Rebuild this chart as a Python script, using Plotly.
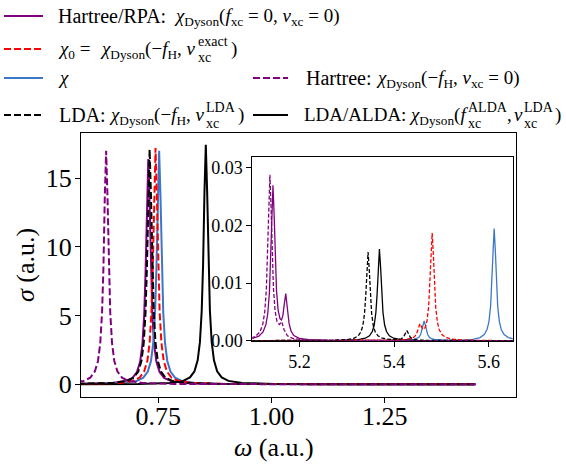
import plotly.graph_objects as go

# ---------------- main panel data (omega / sigma, a.u.) ----------------
rpa_x = [0.55, 0.578, 0.648, 0.678, 0.693, 0.703, 0.710, 0.715, 0.719, 0.722, 0.725, 0.728, 0.731,
         0.734, 0.737, 0.741, 0.746, 0.753, 0.763, 0.778, 0.808, 0.878, 1.0, 1.2, 1.45]
rpa_y = [0.019, 0.026, 0.092, 0.233, 0.467, 0.894, 1.64, 2.89, 5.05, 8.2, 13.1, 16.4, 13.1,
         8.2, 5.05, 2.89, 1.64, 0.894, 0.467, 0.233, 0.092, 0.026, 0.008, 0.003, 0.001]

chi0_x = [0.55, 0.594, 0.664, 0.694, 0.709, 0.719, 0.726, 0.731, 0.735, 0.738, 0.741, 0.744, 0.747,
          0.750, 0.753, 0.757, 0.762, 0.769, 0.779, 0.794, 0.824, 0.894, 1.0, 1.2, 1.45]
chi0_y = [0.016, 0.028, 0.096, 0.244, 0.49, 0.94, 1.72, 3.03, 5.30, 8.6, 13.76, 17.2, 13.76,
          8.6, 5.30, 3.03, 1.72, 0.94, 0.49, 0.244, 0.096, 0.028, 0.01, 0.003, 0.001]

chi_x = [0.55, 0.602, 0.672, 0.702, 0.717, 0.727, 0.734, 0.739, 0.743, 0.746, 0.749, 0.752, 0.755,
         0.758, 0.761, 0.765, 0.770, 0.777, 0.787, 0.802, 0.832, 0.902, 1.0, 1.2, 1.45]
chi_y = [0.015, 0.027, 0.095, 0.24, 0.48, 0.93, 1.7, 2.99, 5.24, 8.5, 13.6, 17.0, 13.6,
         8.5, 5.24, 2.99, 1.7, 0.93, 0.48, 0.24, 0.095, 0.027, 0.01, 0.003, 0.001]

hartree_x = [0.55, 0.585, 0.600, 0.610, 0.617, 0.622, 0.626, 0.629, 0.632, 0.635, 0.638, 0.641,
             0.644, 0.648, 0.653, 0.660, 0.670, 0.685, 0.715, 0.785, 0.9, 1.1, 1.45]
hartree_y = [0.084, 0.24, 0.48, 0.93, 1.7, 2.99, 5.24, 8.5, 13.6, 17.0, 13.6, 8.5,
             5.24, 2.99, 1.7, 0.93, 0.48, 0.24, 0.095, 0.027, 0.009, 0.003, 0.001]

lda_x = [0.55, 0.581, 0.651, 0.681, 0.696, 0.706, 0.713, 0.718, 0.722, 0.725, 0.728, 0.731, 0.734,
         0.737, 0.740, 0.744, 0.749, 0.756, 0.766, 0.781, 0.811, 0.881, 1.0, 1.2, 1.45]
lda_y = [0.019, 0.027, 0.096, 0.243, 0.49, 0.93, 1.71, 3.01, 5.27, 8.55, 13.68, 17.1, 13.68,
         8.55, 5.27, 3.01, 1.71, 0.93, 0.49, 0.243, 0.096, 0.027, 0.009, 0.003, 0.001]

alda_x = [0.55, 0.705, 0.775, 0.805, 0.820, 0.830, 0.837, 0.842, 0.846, 0.849, 0.852, 0.855,
          0.858, 0.861, 0.864, 0.868, 0.873, 0.880, 0.890, 0.905, 0.935, 1.005, 1.2, 1.45]
alda_y = [0.007, 0.028, 0.098, 0.248, 0.50, 0.95, 1.75, 3.07, 5.37, 8.73, 13.96, 17.45,
          13.96, 8.73, 5.37, 3.07, 1.75, 0.95, 0.50, 0.248, 0.098, 0.028, 0.005, 0.002]

# ---------------- inset data ----------------
in_rpa_x = [5.06, 5.10, 5.114, 5.123, 5.129, 5.133, 5.1365, 5.139, 5.1415, 5.144, 5.1465, 5.149,
            5.1515, 5.155, 5.159, 5.162, 5.165, 5.1675, 5.171, 5.1745, 5.178, 5.182, 5.188, 5.20,
            5.22, 5.26, 5.36, 5.46, 5.56, 5.70]
in_rpa_y = [0.00011, 0.00038, 0.00078, 0.00152, 0.00279, 0.00472, 0.0084, 0.0136, 0.0217, 0.0270,
            0.0217, 0.0138, 0.0087, 0.0052, 0.0038, 0.0036, 0.0044, 0.0061, 0.0082, 0.0056,
            0.0030, 0.0017, 0.0009, 0.00042, 0.0002, 0.00007, 0.00002, 0.00001, 0.00001, 0.0]

in_hartree_x = [5.06, 5.10, 5.1075, 5.1165, 5.1225, 5.1265, 5.13, 5.1325, 5.135, 5.1375, 5.14,
                5.1425, 5.145, 5.1485, 5.1525, 5.1575, 5.1625, 5.1675, 5.1745, 5.1855, 5.21,
                5.26, 5.36, 5.46, 5.56, 5.70]
in_hartree_y = [0.00012, 0.00052, 0.00078, 0.00154, 0.00288, 0.00492, 0.00887, 0.0144, 0.02304,
                0.0288, 0.02304, 0.0144, 0.00904, 0.00517, 0.00332, 0.0028, 0.0033, 0.0019,
                0.00085, 0.0004, 0.00014, 0.00005, 0.00001, 0.0, 0.0, 0.0]

in_lda_x = [5.06, 5.21, 5.27, 5.30, 5.315, 5.324, 5.33, 5.334, 5.3375, 5.34, 5.3425, 5.345, 5.3475,
            5.35, 5.3525, 5.356, 5.36, 5.366, 5.375, 5.39, 5.405, 5.415, 5.42, 5.424, 5.427,
            5.43, 5.434, 5.439, 5.45, 5.48, 5.56, 5.70]
in_lda_y = [0.0, 0.00002, 0.00007, 0.00019, 0.00042, 0.00083, 0.00154, 0.00263, 0.00474, 0.0077,
            0.01232, 0.0154, 0.01232, 0.0077, 0.00474, 0.00263, 0.00154, 0.00084, 0.00043,
            0.00022, 0.00017, 0.00033, 0.00064, 0.00131, 0.00176, 0.0013, 0.00062, 0.0003,
            0.00011, 0.00004, 0.00001, 0.0]

in_alda_x = [5.06, 5.21, 5.29, 5.324, 5.339, 5.348, 5.354, 5.358, 5.3615, 5.364, 5.3665, 5.369,
             5.3715, 5.374, 5.3765, 5.38, 5.384, 5.39, 5.399, 5.414, 5.449, 5.53, 5.70]
in_alda_y = [0.0, 0.000016, 0.000064, 0.00019, 0.00043, 0.00085, 0.00159, 0.00272, 0.0049,
             0.00795, 0.01272, 0.0159, 0.01272, 0.00795, 0.0049, 0.00272, 0.00159, 0.00085,
             0.00043, 0.00019, 0.000064, 0.000016, 0.0]

in_chi0_x = [5.06, 5.3095, 5.3795, 5.4095, 5.4245, 5.4335, 5.4395, 5.4435, 5.447, 5.4505, 5.4545,
             5.4585, 5.4615, 5.4655, 5.4695, 5.473, 5.4755, 5.478, 5.4805, 5.483, 5.4855, 5.488,
             5.4915, 5.4955, 5.5015, 5.5105, 5.5255, 5.5505, 5.6095, 5.70]
in_chi0_y = [0.0, 0.00002, 0.00006, 0.00012, 0.00021, 0.00033, 0.0005, 0.00072, 0.00112, 0.0019,
             0.00296, 0.00231, 0.00198, 0.00225, 0.00341, 0.00589, 0.00942, 0.01498, 0.01869,
             0.01496, 0.00937, 0.00579, 0.00323, 0.0019, 0.00103, 0.00052, 0.00024, 0.0001,
             0.00003, 0.00001]

in_chi_x = [5.06, 5.3595, 5.4095, 5.4335, 5.4425, 5.4485, 5.4525, 5.456, 5.4585, 5.461, 5.4635,
            5.466, 5.4685, 5.471, 5.4745, 5.4785, 5.4845, 5.4935, 5.5095, 5.5395, 5.5665, 5.5815,
            5.5905, 5.5965, 5.6005, 5.604, 5.6065, 5.609, 5.6115, 5.614, 5.6165, 5.619, 5.6225,
            5.6265, 5.6325, 5.6415, 5.6565, 5.6815, 5.71]
in_chi_y = [0.0, 0.00002, 0.00004, 0.00011, 0.0002, 0.00036, 0.0006, 0.00107, 0.00172, 0.00274,
            0.00342, 0.00274, 0.00172, 0.00107, 0.0006, 0.00036, 0.00021, 0.00013, 0.00009,
            0.00011, 0.00024, 0.00053, 0.00105, 0.00195, 0.00333, 0.00601, 0.00975, 0.0156,
            0.0195, 0.0156, 0.00975, 0.00601, 0.00333, 0.00195, 0.00105, 0.00053, 0.00024,
            0.0001, 0.00005]

main_xticks = [0.75, 1.0, 1.25]
main_xticklabels = ["0.75", "1.00", "1.25"]
main_yticks = [0, 5, 10, 15]
inset_xticks = [5.2, 5.4, 5.6]
inset_yticks = [0.0, 0.01, 0.02, 0.03]
inset_yticklabels = ["0.00", "0.01", "0.02", "0.03"]

# ---------------- styling ----------------
PURPLE = "#800080"
RED = "#ff0000"
BLUE = "#3c78c8"
BLACK = "#000000"
FONT = "Liberation Serif"
DASH = "7px,3px"
DASH_IN = "4px,2px"

W, H = 566, 464
L, R, T, B = 81, 516, 133, 397


def fx(p):
    return (p - L) / (R - L)


def fy(p):
    return (B - p) / (B - T)


fig = go.Figure()

main_series = [
    (rpa_x, rpa_y, PURPLE, "solid"),
    (chi_x, chi_y, BLUE, "solid"),
    (alda_x, alda_y, BLACK, "solid"),
    (chi0_x, chi0_y, RED, DASH),
    (lda_x, lda_y, BLACK, DASH),
    (hartree_x, hartree_y, PURPLE, DASH),
]
for xs, ys, c, d in main_series:
    fig.add_trace(go.Scatter(x=xs, y=ys, mode="lines", line=dict(color=c, width=2, dash=d),
                             showlegend=False, xaxis="x", yaxis="y", hoverinfo="skip"))

inset_series = [
    (in_rpa_x, in_rpa_y, PURPLE, "solid"),
    (in_chi_x, in_chi_y, BLUE, "solid"),
    (in_alda_x, in_alda_y, BLACK, "solid"),
    (in_chi0_x, in_chi0_y, RED, DASH_IN),
    (in_lda_x, in_lda_y, BLACK, DASH_IN),
    (in_hartree_x, in_hartree_y, PURPLE, DASH_IN),
]
for xs, ys, c, d in inset_series:
    fig.add_trace(go.Scatter(x=xs, y=ys, mode="lines", line=dict(color=c, width=1.3, dash=d),
                             showlegend=False, xaxis="x2", yaxis="y2", hoverinfo="skip"))

axis_common = dict(showline=True, linecolor="black", linewidth=1, mirror=True, ticks="outside",
                   ticklen=5, tickwidth=1, tickcolor="black", showgrid=False, zeroline=False)

fig.update_layout(
    width=W, height=H,
    margin=dict(l=L, r=W - R, t=T, b=H - B, pad=0),
    paper_bgcolor="white", plot_bgcolor="white",
    showlegend=False,
    xaxis=dict(domain=[0, 1], range=[0.5795, 1.5397], tickvals=main_xticks, ticktext=main_xticklabels,
               tickfont=dict(family=FONT, size=26, color="black"), ticklabelstandoff=-9,
               anchor="y", **axis_common),
    yaxis=dict(domain=[0, 1], range=[-0.925, 18.30], tickvals=main_yticks,
               tickfont=dict(family=FONT, size=26, color="black"), ticklabelstandoff=-2,
               anchor="x", **axis_common),
    xaxis2=dict(domain=[fx(252.3), fx(512.7)], range=[5.1003, 5.6507], tickvals=inset_xticks,
                tickfont=dict(family=FONT, size=18, color="black"), anchor="y2", **axis_common),
    yaxis2=dict(domain=[fy(340.7), fy(157.3)], range=[0, 0.03185], tickvals=inset_yticks,
                ticktext=inset_yticklabels,
                tickfont=dict(family=FONT, size=18, color="black"), anchor="x2", **axis_common),
)

# ---------------- axis titles ----------------
fig.add_annotation(x=fx(274), y=fy(447), xref="paper", yref="paper", showarrow=False,
                   text="<i>ω</i> (a.u.)", font=dict(family=FONT, size=26, color="black"),
                   xanchor="center", yanchor="middle")
fig.add_annotation(x=fx(25), y=fy(265), xref="paper", yref="paper", showarrow=False,
                   text="<i>σ</i> (a.u.)", textangle=-90, font=dict(family=FONT, size=26, color="black"),
                   xanchor="center", yanchor="middle")

# ---------------- legend (hand-placed, two columns) ----------------
Y1, Y2, Y3, Y4 = 16, 49, 78, 115
legend_lines = [
    (4, 43, Y1, PURPLE, "solid"),
    (4, 43, Y2, RED, DASH),
    (4, 43, Y3, BLUE, "solid"),
    (253, 288, Y3, PURPLE, DASH),
    (4, 43, Y4, BLACK, DASH),
    (253, 288, Y4, BLACK, "solid"),
]
for x0, x1, yy, c, d in legend_lines:
    fig.add_shape(type="line", xref="paper", yref="paper", x0=fx(x0), x1=fx(x1), y0=fy(yy), y1=fy(yy),
                  line=dict(color=c, width=2, dash=d))

LT = 20   # legend words
LM = 19   # legend math
SS = 14   # stacked scripts
TOP = 12  # offset from legend line y to top of text box


def txt(x, yline, s, size=LM):
    fig.add_annotation(x=fx(x), y=fy(yline - TOP), xref="paper", yref="paper", showarrow=False, text=s,
                       font=dict(family=FONT, size=size, color="black"),
                       xanchor="left", yanchor="top", borderpad=0)


def script(x, yc, s):
    fig.add_annotation(x=fx(x), y=fy(yc), xref="paper", yref="paper", showarrow=False, text=s,
                       font=dict(family=FONT, size=SS, color="black"),
                       xanchor="left", yanchor="middle", borderpad=0)


# row 1
txt(57, Y1, "Hartree/RPA:", LT)
txt(173, Y1, "<i>χ</i><sub>Dyson</sub>(<i>f</i><sub>xc</sub> = 0, <i>v</i><sub>xc</sub> = 0)")
# row 2
txt(57, Y2, "<i>χ</i><sub>0</sub> =")
txt(99, Y2, "<i>χ</i><sub>Dyson</sub>(−<i>f</i><sub>H</sub>, <i>v</i>")
script(197, Y2 - 8, "exact")
script(197, Y2 + 8, "xc")
txt(230, Y2, ")")
# row 3
txt(57, Y3, "<i>χ</i>")
txt(305, Y3, "Hartree:", LT)
txt(375, Y3, "<i>χ</i><sub>Dyson</sub>(−<i>f</i><sub>H</sub>, <i>v</i><sub>xc</sub> = 0)")
# row 4, column 1
txt(58, Y4, "LDA:", LT)
txt(108, Y4, "<i>χ</i><sub>Dyson</sub>(−<i>f</i><sub>H</sub>, <i>v</i>")
script(205, Y4 - 8, "LDA")
script(205, Y4 + 8, "xc")
txt(237, Y4, ")")
# row 4, column 2
txt(303, Y4, "LDA/ALDA:", 19)
txt(408, Y4, "<i>χ</i><sub>Dyson</sub>(<i>f</i>")
script(467, Y4 - 8, "ALDA")
script(467, Y4 + 8, "xc")
txt(506, Y4, ",")
txt(513, Y4, "<i>v</i>")
script(523, Y4 - 8, "LDA")
script(523, Y4 + 8, "xc")
txt(554, Y4, ")")

fig.write_html("out.html", config={"displayModeBar": False},
               post_script="document.body.style.margin='0';")
